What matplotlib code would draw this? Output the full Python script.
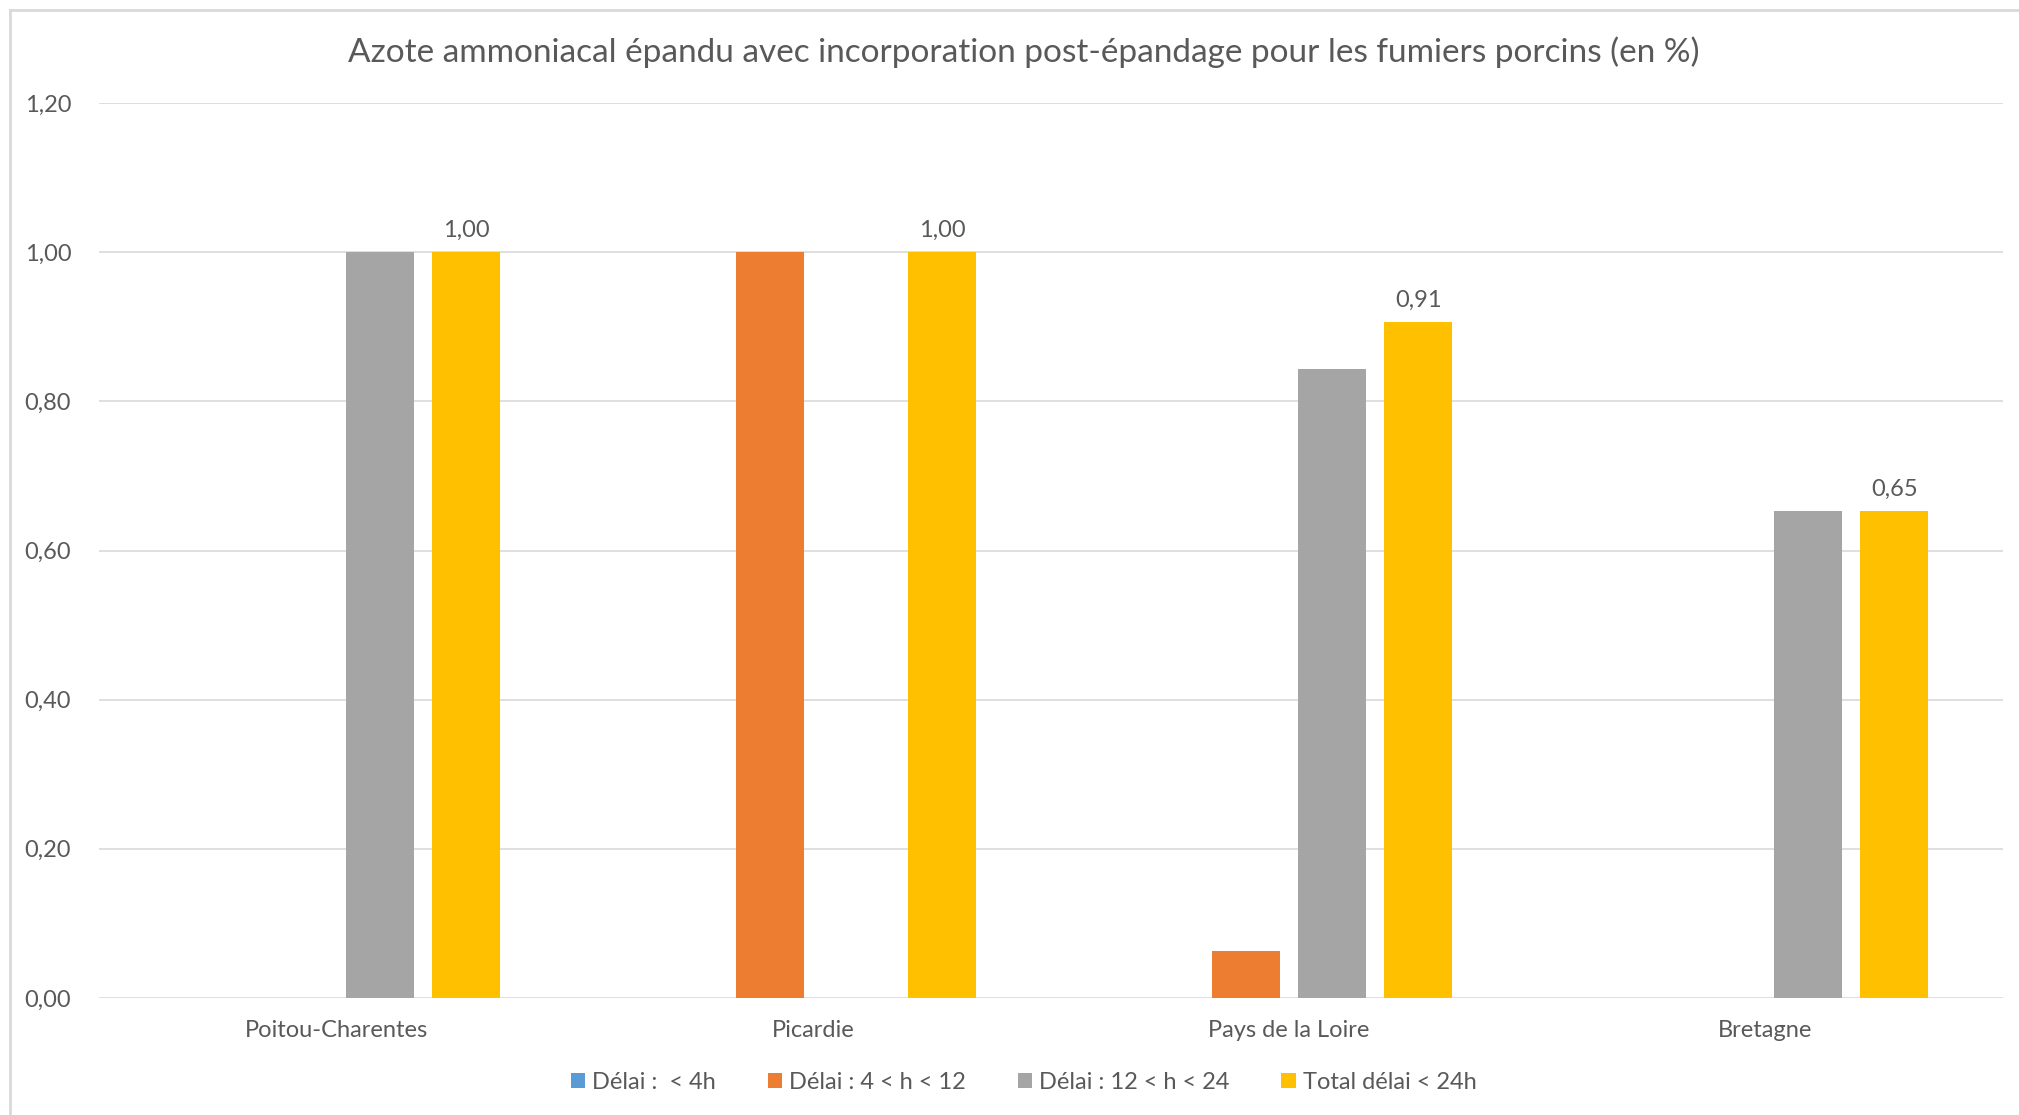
import numpy as np
import matplotlib
matplotlib.use("Agg")
import matplotlib.pyplot as plt
from matplotlib.lines import Line2D

plt.rcParams["font.family"] = ["Lato", "DejaVu Sans"]

regions = ["Poitou-Charentes", "Picardie", "Pays de la Loire", "Bretagne"]
series_names = ["Délai :  < 4h", "Délai : 4 < h < 12", "Délai : 12 < h < 24", "Total délai < 24h"]
delai_4h = [0.0, 0.0, 0.0, 0.0]
delai_4_12 = [0.0, 1.00, 0.063, 0.0]
delai_12_24 = [1.00, 0.0, 0.843, 0.653]
total_24h = [1.00, 1.00, 0.906, 0.653]
colors = ["#5B9BD5", "#ED7D31", "#A5A5A5", "#FFC000"]
yticks = [0.0, 0.2, 0.4, 0.6, 0.8, 1.0, 1.2]

text_col = "#595959"
grid_col = "#D9D9D9"

fig = plt.figure(figsize=(20.19, 11.15), dpi=100)
ax = fig.add_axes([0.049, 0.105, 0.943, 0.8025])

x = np.arange(len(regions))
width = 0.143
step = 0.181
all_series = [delai_4h, delai_4_12, delai_12_24, total_24h]
bars = []
for i, (vals, name, c) in enumerate(zip(all_series, series_names, colors)):
    b = ax.bar(x + (i - 1.5) * step, vals, width, color=c, label=name, zorder=3)
    bars.append(b)

# labels only on the total series
for rect, v in zip(bars[3], total_24h):
    ax.annotate(f"{v:.2f}".replace(".", ","),
                (rect.get_x() + rect.get_width() / 2, v),
                xytext=(0, 8), textcoords="offset points",
                ha="center", va="bottom", fontsize=17, color=text_col)

ax.set_xlim(-0.5, 3.5)
ax.set_ylim(0, 1.2)
ax.set_yticks(yticks)
ax.set_yticklabels([f"{t:.2f}".replace(".", ",") for t in yticks])
ax.set_xticks(x)
ax.set_xticklabels(regions)
ax.tick_params(axis="y", length=0, pad=20, labelsize=17, labelcolor=text_col)
ax.tick_params(axis="x", length=0, pad=16, labelsize=17, labelcolor=text_col)
ax.grid(axis="y", color=grid_col, linewidth=1.2, zorder=0)
for s in ax.spines.values():
    s.set_visible(False)

fig.text(0.507, 0.953, "Azote ammoniacal épandu avec incorporation post-épandage pour les fumiers porcins (en %)",
         ha="center", va="center", fontsize=24, color=text_col)

fig.legend(loc="center", bbox_to_anchor=(0.507, 0.029), ncol=4, frameon=False,
           fontsize=17, labelcolor=text_col, handlelength=0.6, handleheight=0.6,
           handletextpad=0.3, columnspacing=2.2)

# chart frame
fig.add_artist(Line2D([10 / 2019, 1], [1 - 10 / 1115] * 2, color=grid_col, linewidth=2))
fig.add_artist(Line2D([10 / 2019] * 2, [0, 1 - 10 / 1115], color=grid_col, linewidth=2))

fig.savefig("out.png", dpi=100)
